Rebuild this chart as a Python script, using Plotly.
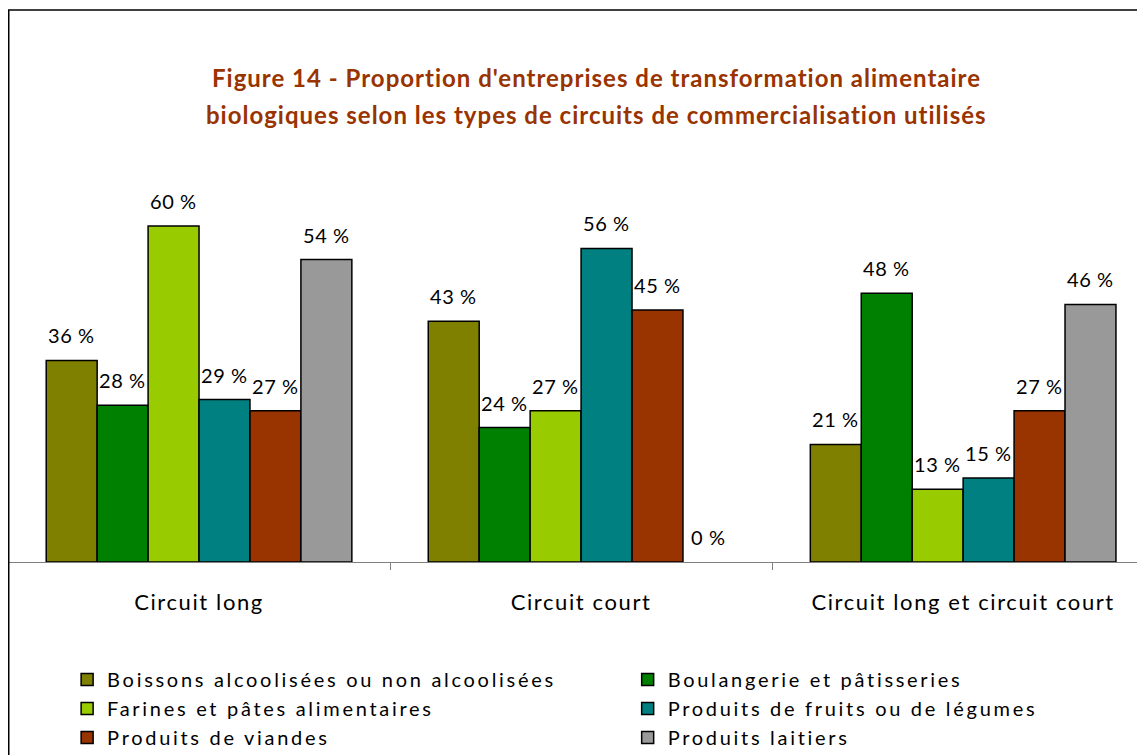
import plotly.graph_objects as go

categories = ["Circuit long", "Circuit court", "Circuit long et circuit court"]
series_names = [
    "Boissons alcoolisées ou non alcoolisées",
    "Boulangerie et pâtisseries",
    "Farines et pâtes alimentaires",
    "Produits de fruits ou de légumes",
    "Produits de viandes",
    "Produits laitiers",
]
boissons = [36, 43, 21]
boulangerie = [28, 24, 48]
farines = [60, 27, 13]
fruits_legumes = [29, 56, 15]
viandes = [27, 45, 27]
laitiers = [54, 0, 46]
series_values = [boissons, boulangerie, farines, fruits_legumes, viandes, laitiers]
colors = ["#808000", "#008000", "#99CC00", "#008080", "#993300", "#999999"]
title_lines = [
    "Figure 14 - Proportion d'entreprises de transformation alimentaire",
    "biologiques selon les types de circuits de commercialisation utilisés",
]

# page has an 8px body margin: figure sized so it fits the 1145x755 window
W, H = 1137, 747
ml, mr, mt, mb = 0, 0, 162, 193
x_range = [-0.5, 2.476]
y_range = [0, 70]
bargap = 0.2

FONT = "Lato, 'Open Sans', sans-serif"


def spaced(t, px):
    return f"<span style='letter-spacing:{px}px'>{t}</span>"


fig = go.Figure()
for i, (name, vals, col) in enumerate(zip(series_names, series_values, colors)):
    fig.add_trace(go.Bar(
        x=categories, y=vals, name=spaced(name, 2.7),
        marker=dict(color=col, line=dict(color="black",
                                         width=[1.5 if v > 0 else 0 for v in vals])),
        legend="legend" if i % 2 == 0 else "legend2",
        hoverinfo="skip",
    ))

plot_w = W - ml - mr
plot_h = H - mt - mb
px_per_unit = plot_w / (x_range[1] - x_range[0])
n = len(series_names)
bar_w_px = (1 - bargap) / n * px_per_unit
annotations = []
for i, vals in enumerate(series_values):
    for c, v in zip(categories, vals):
        annotations.append(dict(
            x=c, y=v, xref="x", yref="y", text=spaced(f"{v} %", 0.6), showarrow=False,
            xshift=(i - (n - 1) / 2) * bar_w_px, yshift=25,
            font=dict(family=FONT, size=20, color="black"),
        ))

title_y_px = [69, 107]  # centers in figure pixels
for line, ypx in zip(title_lines, title_y_px):
    annotations.append(dict(
        x=588 / plot_w, y=1 + (mt - ypx) / plot_h, xref="paper", yref="paper",
        xanchor="center", yanchor="middle", showarrow=False,
        text=spaced(line, 1.0),
        font=dict(family=FONT, size=24, color="#993300", weight="bold"),
    ))

top_border = 1 + (mt - 2) / plot_h
legend_style = dict(orientation="v", xanchor="left", y=-0.25, yanchor="top",
                    itemwidth=30, traceorder="normal", bgcolor="rgba(0,0,0,0)",
                    font=dict(family=FONT, size=20, color="black"))

fig.update_layout(
    width=W, height=H,
    margin=dict(l=ml, r=mr, t=mt, b=mb, pad=0, autoexpand=False),
    paper_bgcolor="white", plot_bgcolor="white",
    barmode="group", bargap=bargap, bargroupgap=0,
    xaxis=dict(range=x_range, showgrid=False, showline=True, linecolor="#808080", linewidth=1,
               ticks="outside", tickson="boundaries", ticklen=7, tickcolor="#808080",
               tickmode="array", tickvals=categories,
               ticktext=[spaced(c, 1.6) for c in categories],
               tickfont=dict(family=FONT, size=22, color="black"), ticklabelstandoff=21,
               zeroline=False, fixedrange=True),
    yaxis=dict(range=y_range, visible=False, showgrid=False, zeroline=False),
    legend=dict(x=0.052, **legend_style),
    legend2=dict(x=0.545, **legend_style),
    annotations=annotations,
    shapes=[
        dict(type="line", xref="paper", yref="paper", x0=0, x1=0, y0=-1, y1=top_border,
             line=dict(color="black", width=3)),
        dict(type="line", xref="paper", yref="paper", x0=0, x1=1.05, y0=top_border, y1=top_border,
             line=dict(color="black", width=1.5)),
    ],
    showlegend=True,
)

fig.write_html("out.html")
